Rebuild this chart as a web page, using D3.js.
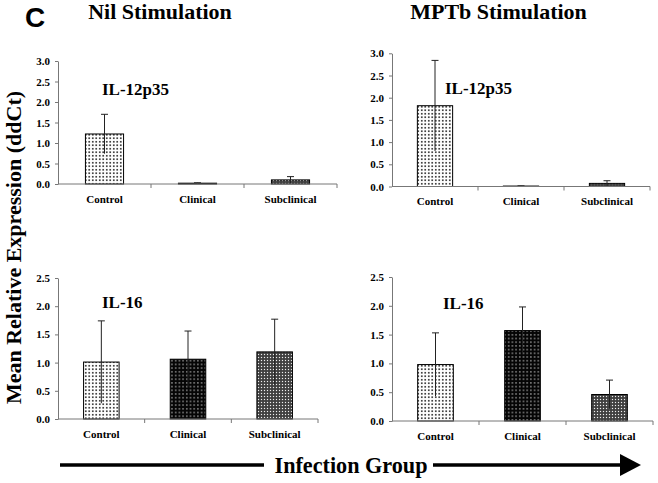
<!DOCTYPE html>
<html><head><meta charset="utf-8">
<script src="https://cdn.jsdelivr.net/npm/d3@7"></script>
<style>
html,body{margin:0;padding:0;background:#fff;}
svg text{font-family:"Liberation Serif","Times New Roman",serif;font-weight:bold;fill:#000;}
</style></head>
<body>
<svg id="chart" width="658" height="483"></svg>
<script>
// ---- data ----
const categories = ["Control", "Clinical", "Subclinical"];
const nilIL12 = [1.22, 0.02, 0.10];
const nilIL12Err = [0.48, 0.01, 0.08];
const mptbIL12 = [1.82, 0.01, 0.07];
const mptbIL12Err = [1.02, 0.005, 0.06];
const nilIL16 = [1.01, 1.06, 1.19];
const nilIL16Err = [0.73, 0.50, 0.58];
const mptbIL16 = [0.98, 1.57, 0.46];
const mptbIL16Err = [0.55, 0.41, 0.25];
const ticksIL12 = [0, 0.5, 1.0, 1.5, 2.0, 2.5, 3.0];
const ticksIL16 = [0, 0.5, 1.0, 1.5, 2.0, 2.5];
const columnTitles = ["Nil Stimulation", "MPTb Stimulation"];
const geneLabels = ["IL-12p35", "IL-16"];

const svg = d3.select("#chart");
const defs = svg.append("defs");

// patterns
const pCtrl = defs.append("pattern").attr("id", "pCtrl").attr("patternUnits", "userSpaceOnUse")
  .attr("width", 3.5).attr("height", 3.5);
pCtrl.append("rect").attr("width", 3.5).attr("height", 3.5).attr("fill", "#fff");
pCtrl.append("rect").attr("x", 1).attr("y", 1).attr("width", 1.5).attr("height", 1.5).attr("fill", "#000");

const pClin = defs.append("pattern").attr("id", "pClin").attr("patternUnits", "userSpaceOnUse")
  .attr("width", 3.7).attr("height", 3.7);
pClin.append("rect").attr("width", 3.7).attr("height", 3.7).attr("fill", "#050505");
pClin.append("rect").attr("x", 1.2).attr("y", 1.2).attr("width", 1.2).attr("height", 1.2).attr("fill", "#ddd");

const pSub = defs.append("pattern").attr("id", "pSub").attr("patternUnits", "userSpaceOnUse")
  .attr("width", 3).attr("height", 3);
pSub.append("rect").attr("width", 3).attr("height", 3).attr("fill", "#505050");
pSub.append("rect").attr("x", 0).attr("y", 0).attr("width", 1).attr("height", 1).attr("fill", "#eee");
pSub.append("rect").attr("x", 1.5).attr("y", 1.5).attr("width", 1).attr("height", 1).attr("fill", "#111");

const fills = ["url(#pCtrl)", "url(#pClin)", "url(#pSub)"];

const panels = [
  { vals: nilIL12, errs: nilIL12Err, ticks: ticksIL12, x0: 58, x1: 337, yb: 184, yt: 61, label: geneLabels[0], lx: 102, ly: 95 },
  { vals: mptbIL12, errs: mptbIL12Err, ticks: ticksIL12, x0: 392, x1: 650, yb: 186.5, yt: 53.3, label: geneLabels[0], lx: 445, ly: 94 },
  { vals: nilIL16, errs: nilIL16Err, ticks: ticksIL16, x0: 58, x1: 318, yb: 419, yt: 278, label: geneLabels[1], lx: 102, ly: 308 },
  { vals: mptbIL16, errs: mptbIL16Err, ticks: ticksIL16, x0: 392, x1: 653, yb: 421, yt: 277, label: geneLabels[1], lx: 443, ly: 309 }
];

const axisColor = "#777";

panels.forEach(p => {
  const g = svg.append("g");
  const x = d3.scaleBand().domain(categories).range([p.x0, p.x1]).paddingInner(0.59).paddingOuter(0.295);
  const y = d3.scaleLinear().domain([0, d3.max(p.ticks)]).range([p.yb, p.yt]);

  // bars
  g.selectAll("rect.bar").data(p.vals).join("rect").attr("class", "bar")
    .attr("x", (d, i) => x(categories[i]))
    .attr("width", x.bandwidth())
    .attr("y", d => y(d))
    .attr("height", d => y(0) - y(d))
    .attr("fill", (d, i) => fills[i])
    .attr("stroke", "#000").attr("stroke-width", 1);

  // error bars
  p.vals.forEach((v, i) => {
    const cx = x(categories[i]) + x.bandwidth() / 2;
    const hi = y(v + p.errs[i]);
    const lo = y(Math.max(0, v - p.errs[i]));
    g.append("line").attr("x1", cx).attr("x2", cx).attr("y1", hi).attr("y2", lo)
      .attr("stroke", "#222").attr("stroke-width", 1);
    g.append("line").attr("x1", cx - 3.5).attr("x2", cx + 3.5).attr("y1", hi).attr("y2", hi)
      .attr("stroke", "#222").attr("stroke-width", 1);
  });

  // y axis
  const ya = g.append("g").attr("transform", `translate(${p.x0},0)`)
    .call(d3.axisLeft(y).tickValues(p.ticks).tickFormat(d3.format(".1f")).tickSize(3).tickSizeOuter(0).tickPadding(5));
  ya.attr("font-family", null);
  ya.selectAll("path,line").attr("stroke", axisColor);
  ya.selectAll("text").style("font-family", '"Liberation Serif",serif').style("font-weight", "bold").style("font-size", "11px").attr("fill", "#000");

  // x axis
  const xa = g.append("g");
  xa.append("line").attr("x1", p.x0).attr("x2", p.x1).attr("y1", y(0)).attr("y2", y(0)).attr("stroke", axisColor);
  const step = x.step();
  [1, 2, 3].forEach(k => {
    const tx = p.x0 + k * step;
    xa.append("line").attr("x1", tx).attr("x2", tx).attr("y1", y(0)).attr("y2", y(0) + 4).attr("stroke", axisColor);
  });
  categories.forEach(c => {
    xa.append("text").attr("x", x(c) + x.bandwidth() / 2).attr("y", y(0) + 18.5)
      .attr("text-anchor", "middle").style("font-size", "11px").text(c);
  });

  // gene label
  g.append("text").attr("x", p.lx).attr("y", p.ly).style("font-size", "17px").text(p.label);
});

// column titles
svg.append("text").attr("x", 160).attr("y", 18.5).attr("text-anchor", "middle").style("font-size", "22px").text(columnTitles[0]);
svg.append("text").attr("x", 498.5).attr("y", 18.5).attr("text-anchor", "middle").style("font-size", "22px").text(columnTitles[1]);

// panel letter
svg.append("text").attr("x", 35).attr("y", 27).attr("text-anchor", "middle")
  .style("font-family", '"Liberation Sans",Arial,sans-serif').style("font-size", "28px").style("font-weight", "bold").text("C");

// y axis title
svg.append("text").attr("transform", "translate(21,247.5) rotate(-90)").attr("text-anchor", "middle")
  .style("font-size", "22px").text("Mean Relative Expression (ddCt)");

// infection group arrow
svg.append("line").attr("x1", 60).attr("x2", 264).attr("y1", 465).attr("y2", 465).attr("stroke", "#000").attr("stroke-width", 3.5);
svg.append("line").attr("x1", 433).attr("x2", 624).attr("y1", 465).attr("y2", 465).attr("stroke", "#000").attr("stroke-width", 3.5);
svg.append("path").attr("d", "M620,454 L641,465 L620,476 Z").attr("fill", "#000");
svg.append("text").attr("x", 351).attr("y", 473).attr("text-anchor", "middle").style("font-size", "24px")
  .attr("textLength", 153).attr("lengthAdjust", "spacingAndGlyphs").text("Infection Group");
</script>
</body></html>
